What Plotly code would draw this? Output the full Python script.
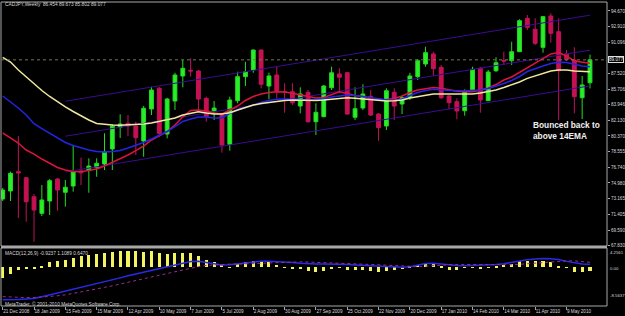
import plotly.graph_objects as go
import pandas as pd

# ---------------- data ----------------
dates = pd.date_range("2008-12-21", periods=76, freq="7D")

open_ = [73.14, 74.06, 76.27, 75.58, 73.40, 71.50, 72.91, 75.43, 73.91, 74.63,
         76.35, 76.46, 76.72, 77.15, 78.87, 81.35, 81.81, 81.50, 79.78, 83.45,
         85.82, 80.58, 84.36, 87.23, 87.88, 87.80, 84.67, 83.22, 82.76, 79.40,
         84.40, 87.15, 87.91, 90.20, 86.08, 87.34, 85.45, 85.43, 83.79, 85.36,
         81.99, 82.57, 85.89, 87.46, 87.60, 82.50, 83.56, 84.90, 82.87, 81.50,
         85.36, 84.02, 84.79, 87.15, 88.60, 89.75, 88.22, 84.94, 84.28, 83.25,
         85.62, 88.11, 84.40, 87.83, 89.00, 88.98, 90.01, 93.83, 92.57, 90.51,
         94.10, 92.30, 89.75, 89.06, 84.74, 86.454]
high = [74.40, 76.27, 80.35, 75.60, 73.71, 74.74, 75.43, 75.55, 75.32, 79.32,
        77.87, 77.80, 77.80, 80.66, 81.73, 82.84, 82.76, 81.99, 83.79, 86.00,
        85.97, 84.74, 87.60, 89.06, 89.25, 87.91, 84.86, 84.36, 82.99, 84.86,
        87.72, 88.86, 90.26, 90.26, 87.60, 88.29, 86.39, 86.39, 85.93, 85.62,
        84.10, 86.20, 88.29, 88.11, 87.68, 85.93, 86.28, 85.62, 82.99, 85.82,
        85.82, 84.94, 87.60, 89.17, 90.58, 90.01, 88.49, 85.05, 84.67, 85.70,
        88.29, 88.26, 87.91, 89.37, 90.01, 91.15, 93.72, 94.21, 93.83, 94.10,
        94.41, 93.83, 90.20, 90.51, 87.23, 89.673]
low = [72.91, 72.91, 70.96, 70.54, 68.25, 71.19, 71.31, 71.80, 72.26, 73.98,
       74.74, 73.86, 75.69, 76.46, 76.46, 80.13, 80.35, 78.18, 77.98, 82.76,
       80.27, 80.09, 83.33, 85.93, 87.15, 83.33, 81.99, 82.19, 78.44, 78.67,
       84.10, 86.08, 87.60, 85.82, 84.56, 84.67, 83.02, 83.91, 82.95, 81.88,
       80.47, 82.50, 85.62, 85.25, 82.82, 82.19, 83.33, 82.65, 79.82, 81.04,
       82.19, 82.87, 84.48, 86.77, 88.29, 87.23, 84.59, 83.41, 82.27, 82.68,
       85.51, 83.02, 84.36, 87.68, 88.49, 88.49, 89.97, 92.49, 90.78, 89.89,
       91.04, 82.19, 88.94, 82.95, 82.30, 85.802]
close = [74.17, 76.08, 76.12, 72.83, 71.88, 73.03, 75.24, 74.17, 74.48, 76.27,
         76.15, 76.92, 77.23, 78.56, 81.50, 81.73, 81.50, 80.16, 83.53, 85.62,
         80.66, 84.59, 87.34, 88.11, 87.80, 84.59, 82.57, 83.56, 79.32, 84.48,
         87.15, 87.72, 90.20, 86.28, 87.23, 85.43, 85.39, 84.17, 85.17, 81.99,
         83.07, 86.08, 87.60, 87.08, 82.87, 83.48, 85.17, 82.76, 81.31, 85.54,
         83.79, 84.76, 87.23, 88.98, 89.90, 88.06, 84.74, 84.17, 83.22, 85.54,
         87.99, 84.48, 87.68, 88.75, 88.94, 90.01, 93.56, 92.80, 90.97, 94.02,
         92.12, 87.83, 89.14, 84.86, 86.20, 89.077]

ema_red = [80.70, 80.13, 79.55, 78.75, 78.29, 77.72, 77.21, 76.75, 76.46, 76.29,
           76.27, 76.40, 76.58, 76.92, 77.32, 77.72, 78.18, 78.69, 79.21, 79.90,
           80.41, 80.87, 81.61, 82.53, 83.28, 83.33, 83.22, 82.99, 82.87, 83.33,
           83.79, 84.42, 84.88, 85.16, 85.34, 85.43, 85.39, 85.24, 85.05, 84.82,
           84.71, 84.76, 85.11, 85.43, 85.22, 85.00, 84.88, 84.65, 84.48, 84.54,
           84.65, 84.94, 85.34, 85.62, 85.79, 85.91, 85.82, 85.62, 85.48, 85.43,
           85.43, 85.62, 85.85, 86.25, 86.77, 87.11, 87.63, 88.14, 88.72, 89.23,
           89.75, 89.92, 89.52, 88.94, 88.77, 88.68]
ema_blue = [84.94, 84.25, 83.56, 82.76, 81.76, 81.21, 80.66, 80.13, 79.61, 79.27,
            78.98, 78.75, 78.58, 78.52, 78.58, 78.69, 78.98, 79.27, 79.61, 80.01,
            80.41, 80.87, 81.44, 82.02, 82.30, 82.53, 82.53, 82.42, 82.42, 82.96,
            83.33, 83.62, 83.96, 84.19, 84.42, 84.56, 84.59, 84.59, 84.54, 84.48,
            84.54, 84.63, 84.82, 84.97, 85.05, 85.00, 84.86, 84.73, 84.59, 84.51,
            84.48, 84.59, 84.99, 85.34, 85.57, 85.70, 85.62, 85.54, 85.54, 85.54,
            85.57, 85.62, 85.79, 86.05, 86.37, 86.71, 87.17, 87.74, 88.09, 88.37,
            88.66, 88.80, 88.77, 88.54, 88.37, 88.29]
ema_yellow = [89.35, 88.83, 87.91, 87.11, 86.31, 85.57, 84.88, 84.25, 83.68, 83.16,
              82.65, 82.19, 81.79, 81.67, 81.61, 81.58, 81.61, 81.67, 81.73, 81.84,
              82.02, 82.19, 82.42, 82.76, 82.99, 83.14, 82.99, 82.87, 82.87, 83.02,
              83.33, 83.62, 83.90, 84.08, 84.21, 84.33, 84.42, 84.48, 84.44, 84.40,
              84.42, 84.48, 84.59, 84.67, 84.74, 84.67, 84.59, 84.48, 84.36, 84.36,
              84.40, 84.48, 84.71, 84.88, 85.05, 85.16, 85.16, 85.16, 85.16, 85.13,
              85.16, 85.28, 85.45, 85.62, 85.91, 86.20, 86.54, 86.96, 87.23, 87.51,
              87.80, 87.91, 87.91, 87.80, 87.72, 87.72]

macd_hist = [-2.43, -1.47, -0.50, -0.40, -0.20, 0.15, 1.10, 1.40, 1.70, 2.00,
             2.58, 2.73, 2.95, 3.17, 3.46, 3.61, 3.68, 3.54, 3.32, 3.54,
             3.17, 2.95, 3.17, 3.17, 3.17, 2.43, 1.70, 1.10, 0.50, -0.15,
             0.80, 1.25, 1.30, 1.30, 1.10, 0.60, -0.15, -0.30, -0.35, -0.90,
             -0.96, -0.74, -0.37, -0.10, -0.66, -0.66, -0.50, -0.80, -1.10, -0.80,
             -0.60, -0.37, 0.10, 0.50, 0.80, 0.80, 0.10, -0.50, -0.50, -0.10,
             0.05, -0.30, 0.05, 0.30, 0.60, 0.66, 1.40, 1.33, 1.33, 1.33,
             1.10, 0.15, -0.10, -0.96, -1.10, -0.9237]
macd_main = [-7.2, -7.2, -7.1, -7.0, -6.9, -6.5, -6.1, -5.7, -5.3, -4.9,
             -4.5, -4.05, -3.6, -3.2, -2.8, -2.35, -1.9, -1.5, -1.1, -0.7,
             -0.25, 0.2, 0.5, 0.9, 1.25, 1.3, 1.0, 0.7, 0.5, 0.55,
             0.75, 1.0, 1.25, 1.35, 1.35, 1.3, 1.2, 1.05, 0.9, 0.75,
             0.72, 0.72, 0.72, 0.7, 0.6, 0.5, 0.4, 0.3, 0.15, 0.05,
             0.0, 0.0, 0.1, 0.5, 0.85, 0.9, 0.7, 0.5, 0.4, 0.35,
             0.4, 0.45, 0.5, 0.6, 0.8, 1.1, 1.4, 1.65, 1.8, 1.95,
             1.9, 1.7, 1.3, 0.95, 0.7, 0.647]
macd_signal = [-6.5, -6.6, -6.65, -6.7, -6.7, -6.6, -6.5, -6.3, -6.1, -5.8,
               -5.5, -5.15, -4.8, -4.45, -4.1, -3.75, -3.35, -2.95, -2.55, -2.15,
               -1.75, -1.35, -0.95, -0.55, -0.2, 0.15, 0.4, 0.55, 0.65, 0.7,
               0.7, 0.72, 0.78, 0.85, 0.95, 1.05, 1.15, 1.2, 1.2, 1.15,
               1.1, 1.05, 0.95, 0.85, 0.8, 0.75, 0.7, 0.65, 0.55, 0.45,
               0.35, 0.25, 0.15, 0.15, 0.25, 0.4, 0.5, 0.55, 0.6, 0.6,
               0.55, 0.5, 0.45, 0.45, 0.5, 0.55, 0.65, 0.8, 0.95, 1.1,
               1.25, 1.35, 1.4, 1.4, 1.3, 1.109]

channel_dates = ["2009-02-15", "2010-05-30"]
channel_upper = [84.34, 94.19]
channel_middle = [80.33, 90.19]
channel_lower = [76.24, 86.10]

bid_price = 89.077
price_ticks = [94.670, 92.910, 91.096, 87.520, 85.706, 83.946, 82.130, 80.370,
               78.555, 76.740, 74.980, 73.165, 71.405, 69.590, 67.830]
date_ticks = pd.date_range("2008-12-21", periods=19, freq="28D")
macd_labels = ["4.2561", "0.00", "-8.5637"]

# ---------------- figure ----------------
BG = "#000000"
GRID = "#a8a8a8"
TXT = "#d8d8d8"
FONT = "Liberation Sans"

W, H = 625, 316
ML, MR, MT, MB = 1, 18, 2, 10
PW, PH = W - ML - MR, H - MT - MB


def px_x(px):
    return (px - ML) / PW


def px_y(py):
    return (H - MB - py) / PH


main_dom = [px_y(246), 1.0]
macd_dom = [0.0, px_y(248)]
xrange = ["2008-12-19 11:30", "2010-06-14 05:00"]

fig = go.Figure()

for vals in (channel_upper, channel_middle, channel_lower):
    fig.add_trace(go.Scatter(x=channel_dates, y=vals, mode="lines",
                             line=dict(color="#3a0c92", width=1),
                             xaxis="x", yaxis="y", hoverinfo="skip"))

fig.add_trace(go.Candlestick(
    x=dates, open=open_, high=high, low=low, close=close,
    increasing=dict(line=dict(color="#22dd22", width=1), fillcolor="#2aee2a"),
    decreasing=dict(line=dict(color="#c0145c", width=1), fillcolor="#c8104e"),
    whiskerwidth=0, xaxis="x", yaxis="y"))

for vals, col in ((ema_red, "#dc143c"), (ema_blue, "#2424e6"), (ema_yellow, "#eee8a0")):
    fig.add_trace(go.Scatter(x=dates, y=vals, mode="lines",
                             line=dict(color=col, width=1.5),
                             xaxis="x", yaxis="y", hoverinfo="skip"))

fig.add_trace(go.Bar(x=dates, y=macd_hist, marker=dict(color="#f4f460", line=dict(width=0)),
                     width=2.7 * 86400000, xaxis="x2", yaxis="y2"))
fig.add_trace(go.Scatter(x=dates, y=macd_main, mode="lines",
                         line=dict(color="#2a2ae8", width=1.5), xaxis="x2", yaxis="y2"))
fig.add_trace(go.Scatter(x=dates, y=macd_signal, mode="lines",
                         line=dict(color="#9a2a9a", width=1, dash="dot"), xaxis="x2", yaxis="y2"))

fig.update_layout(
    width=W, height=H,
    margin=dict(l=ML, r=MR, t=MT, b=MB),
    paper_bgcolor=BG, plot_bgcolor=BG,
    showlegend=False,
    font=dict(family=FONT, color=TXT, size=4.5),
    bargap=0,
    xaxis=dict(domain=[0, 1], anchor="y", range=xrange, type="date",
               showticklabels=False, showgrid=False, zeroline=False,
               rangeslider=dict(visible=False), ticks=""),
    yaxis=dict(domain=main_dom, anchor="x", range=[67.76, 95.70], side="right",
               tickvals=price_ticks, ticktext=[f"{v:.3f}" for v in price_ticks],
               ticks="outside", ticklen=2, tickcolor=GRID,
               tickfont=dict(size=4.6, color=TXT, family=FONT),
               showgrid=False, zeroline=False),
    xaxis2=dict(domain=[0, 1], anchor="y2", range=xrange, type="date",
                tickvals=list(date_ticks),
                ticktext=[f"{d.day} {d.strftime('%b %Y')}" for d in date_ticks],
                ticklabelposition="outside right", tickangle=0,
                ticks="outside", ticklen=3, tickcolor=GRID,
                tickfont=dict(size=4.6, color=TXT, family=FONT),
                showgrid=False, zeroline=False),
    yaxis2=dict(domain=macd_dom, anchor="x2", range=[-8.5637, 4.2561],
                showticklabels=False, showgrid=False, zeroline=False, ticks=""),
)

# panel borders
fig.add_shape(type="rect", xref="paper", yref="y domain", x0=0, x1=1, y0=0, y1=1,
              line=dict(color=GRID, width=1))
fig.add_shape(type="rect", xref="paper", yref="y2 domain", x0=0, x1=1, y0=0, y1=1,
              line=dict(color=GRID, width=1))
fig.add_shape(type="line", xref="paper", yref="paper", x0=0, x1=1,
              y0=px_y(247), y1=px_y(247), line=dict(color=GRID, width=2))
# bid line
fig.add_shape(type="line", xref="paper", yref="y", x0=0, x1=1, y0=bid_price, y1=bid_price,
              line=dict(color="#76764a", width=1, dash="dot"))

ann = []
ann.append(dict(text="CADJPY,Weekly  86.454 89.673 85.802 89.077", x=px_x(3), y=px_y(5),
                xref="paper", yref="paper", xanchor="left", yanchor="middle",
                showarrow=False, font=dict(size=4.8, color=TXT, family=FONT)))
ann.append(dict(text="MACD(12,26,9) -0.9237 1.1089 0.6470", x=px_x(3), y=px_y(253.5),
                xref="paper", yref="paper", xanchor="left", yanchor="middle",
                showarrow=False, font=dict(size=4.8, color=TXT, family=FONT)))
ann.append(dict(text="MetaTrader, © 2001-2010 MetaQuotes Software Corp.", x=px_x(3), y=px_y(303.5),
                xref="paper", yref="paper", xanchor="left", yanchor="middle",
                showarrow=False, font=dict(size=4.8, color=TXT, family=FONT)))
ann.append(dict(text="<b>Bounced back to<br>above 14EMA</b>", x=px_x(531), y=px_y(130),
                xref="paper", yref="paper", xanchor="left", yanchor="middle", align="left",
                showarrow=False, font=dict(size=8.3, color="#f0f0f0", family=FONT)))
ann.append(dict(text=f"{bid_price:.3f}", x=1.0, y=bid_price, xref="paper", yref="y",
                xanchor="left", yanchor="middle", xshift=1, showarrow=False,
                bgcolor="#000000", bordercolor="#e0e0e0", borderwidth=1, borderpad=0,
                font=dict(size=4.6, color="#ffffff", family=FONT)))
for lab, py in zip(macd_labels, [252.3, 268.3, 295.7]):
    ann.append(dict(text=lab, x=px_x(608), y=px_y(py), xref="paper", yref="paper",
                    xanchor="left", yanchor="middle", showarrow=False,
                    font=dict(size=4.3, color=TXT, family=FONT)))
fig.update_layout(annotations=ann)

fig.write_html("out.html")
